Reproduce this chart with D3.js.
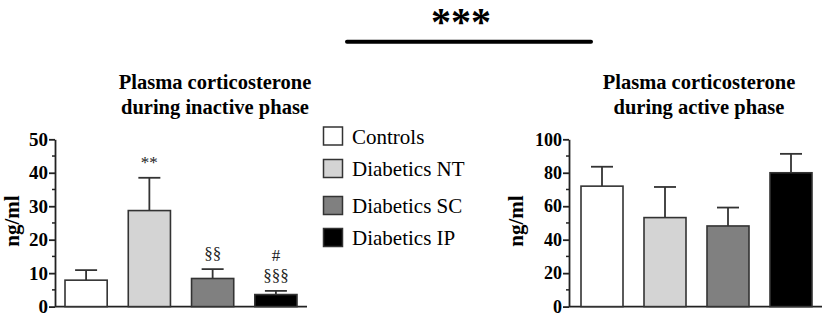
<!DOCTYPE html>
<html>
<head>
<meta charset="utf-8">
<script src="https://cdn.jsdelivr.net/npm/d3@7"></script>
<style>
  body { margin: 0; background: #fff; }
</style>
</head>
<body>
<div id="chart"></div>
<script>
// Data
const groups = ["Controls", "Diabetics NT", "Diabetics SC", "Diabetics IP"];
const fills = ["#ffffff", "#d4d4d4", "#808080", "#000000"];
const inactiveMean = [7.9, 28.7, 8.4, 3.6];
const inactiveErr = [3.0, 9.8, 2.8, 1.1];
const inactiveMarks = [[], ["**"], ["§§"], ["#", "§§§"]];
const activeMean = [72, 53.2, 48.2, 80];
const activeErr = [11.6, 18.3, 11.0, 11.3];
const inactiveTicks = [0, 10, 20, 30, 40, 50];
const activeTicks = [0, 20, 40, 60, 80, 100];

const serif = "Liberation Serif";
const width = 827, height = 316;
const svg = d3.select("#chart").append("svg")
    .attr("width", width)
    .attr("height", height)
    .style("display", "block");

const yTop = 139.3, yBottom = 306.6;

function panel(opts) {
    const x = d3.scaleBand().domain(groups).range([opts.x0, opts.x1])
        .paddingInner(1 / 3).paddingOuter(0);
    const y = d3.scaleLinear().domain([0, opts.max]).range([yBottom, yTop]);
    const g = svg.append("g");

    // Title
    [["Plasma corticosterone", 89], [opts.title2, 114]].forEach(([t, ty]) => {
        g.append("text")
            .attr("x", opts.titleX).attr("y", ty)
            .attr("text-anchor", "middle")
            .attr("font-family", serif).attr("font-size", 20.5).attr("font-weight", "bold")
            .text(t);
    });

    // Minor ticks
    const minor = d3.range(0, opts.max + 0.001, opts.max / 10)
        .filter(v => !opts.ticks.includes(v));
    g.selectAll(".minor").data(minor).enter().append("line")
        .attr("x1", opts.axisX - 3).attr("x2", opts.axisX)
        .attr("y1", d => y(d)).attr("y2", d => y(d))
        .attr("stroke", "#222").attr("stroke-width", 1.5);

    // Y axis
    const axis = g.append("g")
        .attr("transform", `translate(${opts.axisX},0)`)
        .call(d3.axisLeft(y).tickValues(opts.ticks).tickSize(6).tickSizeOuter(0).tickPadding(1));
    axis.attr("font-family", serif).attr("font-size", opts.tickFont).attr("font-weight", "bold");
    axis.select(".domain").attr("stroke", "#222").attr("stroke-width", 1.8);
    axis.selectAll(".tick line").attr("stroke", "#222").attr("stroke-width", 1.8);
    axis.selectAll(".tick text").attr("fill", "#000");

    // Baseline
    g.append("line")
        .attr("x1", opts.axisX).attr("x2", opts.baseEnd)
        .attr("y1", y(0)).attr("y2", y(0))
        .attr("stroke", "#222").attr("stroke-width", 1.8);

    // Y label
    g.append("text")
        .attr("transform", `translate(${opts.labelX},221) rotate(-90)`)
        .attr("text-anchor", "middle")
        .attr("font-family", serif).attr("font-size", 21).attr("font-weight", "bold")
        .text("ng/ml");

    const rows = groups.map((k, i) => ({ k, i, m: opts.mean[i], e: opts.err[i] }));

    // Error bars (upper only)
    g.selectAll(".err").data(rows).enter().append("line")
        .attr("x1", d => x(d.k) + x.bandwidth() / 2).attr("x2", d => x(d.k) + x.bandwidth() / 2)
        .attr("y1", d => y(d.m)).attr("y2", d => y(d.m + d.e))
        .attr("stroke", "#333").attr("stroke-width", 1.8);
    g.selectAll(".cap").data(rows).enter().append("line")
        .attr("x1", d => x(d.k) + x.bandwidth() / 2 - 11).attr("x2", d => x(d.k) + x.bandwidth() / 2 + 11)
        .attr("y1", d => y(d.m + d.e)).attr("y2", d => y(d.m + d.e))
        .attr("stroke", "#333").attr("stroke-width", 1.8);

    // Bars
    g.selectAll(".bar").data(rows).enter().append("rect")
        .attr("x", d => x(d.k)).attr("width", x.bandwidth())
        .attr("y", d => y(d.m)).attr("height", d => y(0) - y(d.m))
        .attr("fill", d => fills[d.i])
        .attr("stroke", "#333").attr("stroke-width", 1.6);

    // Significance marks
    if (opts.marks) {
        rows.forEach(d => {
            const marks = opts.marks[d.i];
            marks.forEach((txt, j) => {
                g.append("text")
                    .attr("x", x(d.k) + x.bandwidth() / 2)
                    .attr("y", y(d.m + d.e) - 10 - (marks.length - 1 - j) * 20)
                    .attr("text-anchor", "middle")
                    .attr("font-family", serif).attr("font-size", 17).attr("fill", "#222")
                    .text(txt);
            });
        });
    }
}

panel({
    x0: 65, x1: 297, axisX: 55, baseEnd: 307, max: 50, tickFont: 19,
    ticks: inactiveTicks, mean: inactiveMean, err: inactiveErr, marks: inactiveMarks,
    titleX: 215, title2: "during inactive phase", labelX: 18.5
});
panel({
    x0: 581, x1: 812, axisX: 569, baseEnd: 822, max: 100, tickFont: 18,
    ticks: activeTicks, mean: activeMean, err: activeErr, marks: null,
    titleX: 699, title2: "during active phase", labelX: 523
});

// Legend
const legend = svg.append("g");
const legendY = [136, 168.5, 205.5, 237.5];
groups.forEach((k, i) => {
    legend.append("rect")
        .attr("x", 323.5).attr("y", legendY[i] - 9)
        .attr("width", 19).attr("height", 18)
        .attr("fill", fills[i]).attr("stroke", "#333").attr("stroke-width", 1.5);
    legend.append("text")
        .attr("x", 352).attr("y", legendY[i] + 7.5)
        .attr("font-family", serif).attr("font-size", 21)
        .text(k);
});

// Overall comparison
svg.append("line")
    .attr("x1", 347).attr("x2", 591).attr("y1", 41.7).attr("y2", 41.7)
    .attr("stroke", "#000").attr("stroke-width", 4).attr("stroke-linecap", "round");
svg.append("text")
    .attr("x", 461).attr("y", 34.5)
    .attr("text-anchor", "middle")
    .attr("font-family", serif).attr("font-size", 40).attr("font-weight", "bold")
    .text("***");
</script>
</body>
</html>
